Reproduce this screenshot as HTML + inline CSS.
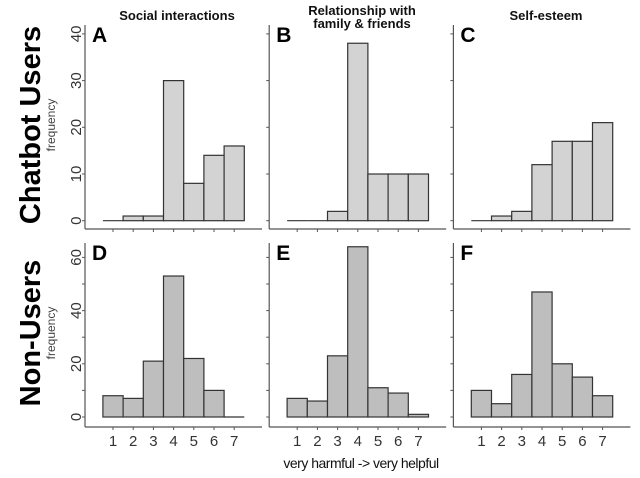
<!DOCTYPE html>
<html><head><meta charset="utf-8"><style>
html,body{margin:0;padding:0;background:#fff}
svg{display:block}
text{font-family:"Liberation Sans","DejaVu Sans",sans-serif}
</style></head><body>
<svg id="s" width="640" height="478" viewBox="0 0 640 478" xmlns="http://www.w3.org/2000/svg">
<g font-weight="bold" font-size="13" text-anchor="middle" fill="#111">
<text x="177" y="20">Social interactions</text>
<text x="362" y="15">Relationship with</text>
<text x="362" y="28">family &amp; friends</text>
<text x="546" y="20">Self-esteem</text>
</g>
<text transform="translate(40,125) rotate(-90)" text-anchor="middle" font-weight="bold" font-size="29" fill="#000">Chatbot Users</text>
<text transform="translate(55,125) rotate(-90)" text-anchor="middle" font-size="12" fill="#444">frequency</text>
<text transform="translate(40,333) rotate(-90)" text-anchor="middle" font-weight="bold" font-size="29" fill="#000">Non-Users</text>
<text transform="translate(55,333) rotate(-90)" text-anchor="middle" font-size="12" fill="#444">frequency</text>
<text x="361" y="468" text-anchor="middle" font-size="14" fill="#111" letter-spacing="-0.5">very harmful -&gt; very helpful</text>
<g id="g"></g>
</svg>
<script>
(function(){
var g=document.getElementById('g'),h='';
var data=[[0,1,1,30,8,14,16],[0,0,2,38,10,10,10],[0,1,2,12,17,17,21],[8,7,21,53,22,10,0],[7,6,23,64,11,9,1],[10,5,16,47,20,15,8]];
var L='ABCDEF';
for(var p=0;p<6;p++){
 var col=p%3,row=Math.floor(p/3),ax=85+col*184.2;
 var yt=row?243:25,bot=row?427:229,y0=row?417:220.7,k=row?2.66:4.67;
 var fill=row?'#bebebe':'#d3d3d3';
 var ticks=row?[0,10,20,30,40,50,60]:[0,10,20,30,40];
 h+='<line x1="'+ax+'" y1="'+yt+'" x2="'+ax+'" y2="'+bot+'" stroke="#555" stroke-width="1.2"/>';
 h+='<line x1="'+ax+'" y1="'+bot+'" x2="'+(ax+177)+'" y2="'+bot+'" stroke="#555" stroke-width="1.2"/>';
 ticks.forEach(function(t){var y=y0-k*t;h+='<line x1="'+(ax-3)+'" y1="'+y+'" x2="'+ax+'" y2="'+y+'" stroke="#555"/>';
  if(col==0&&(!row||t%20==0))h+='<text transform="translate(81,'+y+') rotate(-90)" text-anchor="middle" font-size="15" fill="#333">'+t+'</text>';});
 for(var i=0;i<7;i++){var tx=ax+28+i*20.2;
  h+='<line x1="'+tx+'" y1="'+bot+'" x2="'+tx+'" y2="'+(bot+3)+'" stroke="#555"/>';
  if(row)h+='<text x="'+tx+'" y="'+(bot+19)+'" text-anchor="middle" font-size="15" fill="#333">'+(i+1)+'</text>';
  var v=data[p][i],x=tx-10.1;
  if(v==0)h+='<line x1="'+x+'" y1="'+y0+'" x2="'+(x+20.2)+'" y2="'+y0+'" stroke="#333" stroke-width="1.2"/>';
  else h+='<rect x="'+x+'" y="'+(y0-k*v)+'" width="20.2" height="'+(k*v)+'" fill="'+fill+'" stroke="#333" stroke-width="1.2"/>';}
 h+='<text x="'+(ax+7)+'" y="'+(yt+17)+'" font-weight="bold" font-size="21" fill="#000">'+L[p]+'</text>';
}
g.innerHTML=h;
})();
</script>
</body></html>
